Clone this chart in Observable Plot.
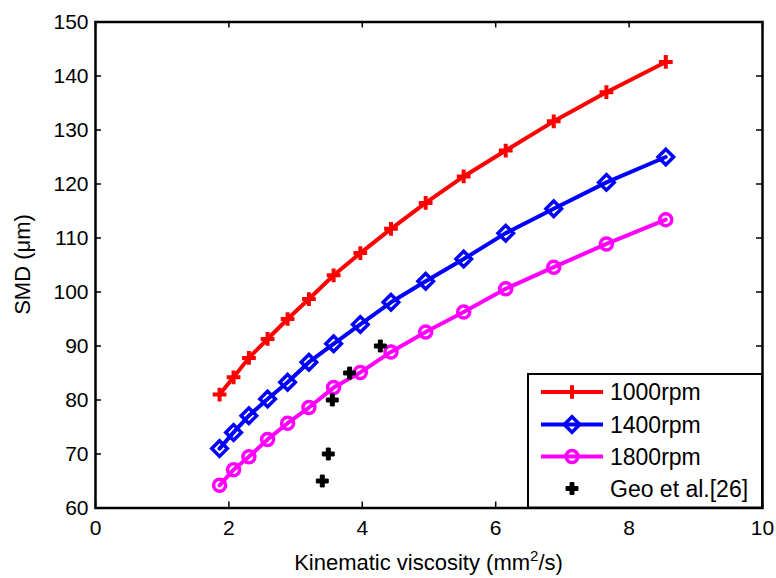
<!DOCTYPE html>
<html>
<head>
<meta charset="utf-8">
<script src="https://cdn.jsdelivr.net/npm/d3@7"></script>
<script src="https://cdn.jsdelivr.net/npm/@observablehq/plot@0.6"></script>
<style>
  html, body { margin: 0; padding: 0; background: #fff; }
  #chart { width: 776px; height: 578px; }
</style>
</head>
<body>
<div id="chart"></div>
<script>
// ---- data ----
const viscosity = [1.86, 2.07, 2.30, 2.58, 2.88, 3.20, 3.57, 3.97, 4.43, 4.95, 5.52, 6.15, 6.87, 7.66, 8.55];
const smd1000 = [81.0, 84.2, 87.8, 91.3, 95.0, 98.7, 103.1, 107.2, 111.7, 116.5, 121.4, 126.2, 131.6, 137.0, 142.6];
const smd1400 = [71.0, 74.0, 77.1, 80.2, 83.3, 87.0, 90.4, 94.0, 98.1, 102.0, 106.1, 110.9, 115.4, 120.3, 125.0];
const smd1800 = [64.2, 67.1, 69.5, 72.7, 75.7, 78.6, 82.3, 85.1, 88.9, 92.6, 96.3, 100.6, 104.6, 108.9, 113.4];
const geoX = [3.40, 3.49, 3.55, 3.81, 4.27];
const geoY = [65, 70, 80, 85, 90];
const xTicks = [0, 2, 4, 6, 8, 10];
const yTicks = [60, 70, 80, 90, 100, 110, 120, 130, 140, 150];
const seriesNames = ["1000rpm", "1400rpm", "1800rpm", "Geo et al.[26]"];
const xLabel = "Kinematic viscosity (mm";
const yLabel = "SMD (\u03bcm)";

// ---- styling ----
const FONT = "'Liberation Sans', Arial, Helvetica, sans-serif";
const W = 776, H = 578, ML = 95, MR = 14, MT = 21.5, MB = 70.5;
const PW = W - ML - MR, PH = H - MT - MB;
const colors = ["#ff0000", "#0000ff", "#ff00ff", "#000000"];

const toRows = (ys) => viscosity.map((x, i) => ({x, y: ys[i]}));
const r1000 = toRows(smd1000), r1400 = toRows(smd1400), r1800 = toRows(smd1800);
const geo = geoX.map((x, i) => ({x, y: geoY[i]}));

const chart = Plot.plot({
  width: W, height: H,
  marginLeft: ML, marginRight: MR, marginTop: MT, marginBottom: MB,
  style: {fontFamily: FONT, fontSize: "21px", background: "#fff", color: "#000"},
  x: {domain: [0, 10]},
  y: {domain: [60, 150]},
  marks: [
    // inward ticks on all four sides
    Plot.tickX(xTicks, {x: d => d, insetTop: PH - 6, stroke: "#000", strokeWidth: 1.5}),
    Plot.tickX(xTicks, {x: d => d, insetBottom: PH - 6, stroke: "#000", strokeWidth: 1.5}),
    Plot.tickY(yTicks, {y: d => d, insetRight: PW - 6, stroke: "#000", strokeWidth: 1.5}),
    Plot.tickY(yTicks, {y: d => d, insetLeft: PW - 6, stroke: "#000", strokeWidth: 1.5}),
    Plot.axisX(xTicks, {tickSize: 0, tickPadding: 12, label: null, fontSize: 21}),
    Plot.axisY(yTicks, {tickSize: 0, tickPadding: 7, label: null, fontSize: 21}),
    // series
    Plot.line(r1000, {x: "x", y: "y", stroke: colors[0], strokeWidth: 4}),
    Plot.dot(r1000, {x: "x", y: "y", symbol: "plus", r: 4.5, stroke: colors[0], strokeWidth: 4}),
    Plot.line(r1400, {x: "x", y: "y", stroke: colors[1], strokeWidth: 4}),
    Plot.dot(r1400, {x: "x", y: "y", symbol: "diamond2", r: 7, stroke: colors[1], fill: "none", strokeWidth: 3.5}),
    Plot.line(r1800, {x: "x", y: "y", stroke: colors[2], strokeWidth: 4}),
    Plot.dot(r1800, {x: "x", y: "y", symbol: "circle", r: 6, stroke: colors[2], fill: "none", strokeWidth: 3.5}),
    Plot.dot(geo, {x: "x", y: "y", symbol: "cross", r: 5, fill: colors[3], stroke: colors[3], strokeWidth: 1}),
    Plot.frame({stroke: "#000", strokeWidth: 2.5})
  ]
});

document.getElementById("chart").appendChild(chart);

// ---- axis labels and legend (drawn in pixel space on the same svg) ----
const svg = d3.select(chart);

const xl = svg.append("text")
  .attr("x", ML + PW / 2).attr("y", 570)
  .attr("text-anchor", "middle")
  .style("font-family", FONT).style("font-size", "22px").attr("fill", "#000");
xl.append("tspan").text(xLabel);
xl.append("tspan").attr("dy", -9).style("font-size", "15px").text("2");
xl.append("tspan").attr("dy", 9).text("/s)");

svg.append("text")
  .attr("transform", `translate(30,${MT + PH / 2}) rotate(-90)`)
  .attr("text-anchor", "middle")
  .style("font-family", FONT).style("font-size", "22px").attr("fill", "#000")
  .text(yLabel);

// legend
const lg = svg.append("g").attr("text-anchor", "start");
const LX0 = 528, LY0 = 374, LX1 = ML + PW, LY1 = MT + PH;
lg.append("rect").attr("x", LX0).attr("y", LY0).attr("width", LX1 - LX0).attr("height", LY1 - LY0)
  .attr("fill", "#fff").attr("stroke", "#000").attr("stroke-width", 2);
const rowsY = [392, 424.5, 456.5, 488.5];
const syms = [d3.symbolPlus, d3.symbolDiamond2, d3.symbolCircle, d3.symbolCross];
const symSize = [4.5, 7, 6, 5];
seriesNames.forEach((name, i) => {
  const y = rowsY[i];
  if (i < 3) {
    lg.append("line").attr("x1", 541).attr("x2", 603).attr("y1", y).attr("y2", y)
      .attr("stroke", colors[i]).attr("stroke-width", 4);
  }
  const p = d3.symbol(syms[i], symSize[i] * symSize[i] * Math.PI)();
  lg.append("path").attr("d", p).attr("transform", `translate(572,${y})`)
    .attr("fill", i === 3 ? colors[i] : "none")
    .attr("stroke", colors[i]).attr("stroke-width", i === 3 ? 1 : (i === 0 ? 4 : 3.5));
  lg.append("text").attr("x", 610).attr("y", y).attr("dy", "0.36em")
    .attr("text-anchor", "start")
    .style("font-family", FONT).style("font-size", "23px").attr("fill", "#000")
    .text(name);
});
</script>
</body>
</html>
